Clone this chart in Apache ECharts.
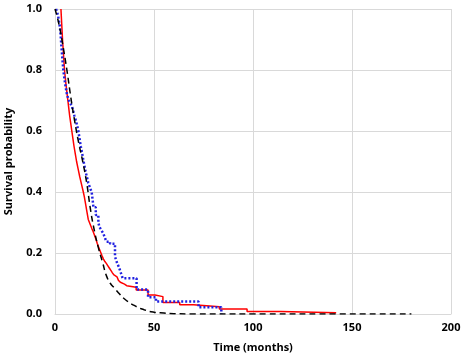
<!DOCTYPE html>
<html>
<head>
<meta charset="utf-8">
<script src="https://cdn.jsdelivr.net/npm/echarts@6/dist/echarts.min.js"></script>
<style>
  html, body { margin: 0; padding: 0; background: #fff; }
  #chart { width: 462px; height: 354px; }
</style>
</head>
<body>
<div id="chart"></div>
<script>
// Kaplan-Meier (red, solid)
const redTimes = [3.0, 3.2, 3.4, 3.6, 3.8, 4.05, 4.3, 4.55, 4.8, 5.2, 5.6, 6.05, 6.5, 6.95, 7.4, 7.95, 8.5, 9.05, 9.6, 10.25, 10.9, 11.7, 12.5, 13.4, 14.3, 14.8, 15.2, 15.6, 16.0, 16.4, 16.8, 17.4, 18.0, 18.6, 19.3, 20.0, 20.7, 21.3, 22.0, 22.6, 23.2, 23.8, 24.5, 25.2, 26.0, 26.8, 27.5, 28.3, 29.0, 29.8, 30.5, 31.3, 32.0, 33.0, 34.0, 35.1, 36.2, 41.0, 47.0, 50.5, 54.5, 63.0, 70.0, 83.0, 97.0, 114.0, 142.0];
const redSurv  = [1.0, 0.975, 0.95, 0.925, 0.90, 0.875, 0.85, 0.825, 0.80, 0.775, 0.75, 0.725, 0.70, 0.675, 0.65, 0.625, 0.60, 0.575, 0.55, 0.525, 0.50, 0.475, 0.45, 0.425, 0.40, 0.385, 0.37, 0.355, 0.34, 0.325, 0.31, 0.30, 0.29, 0.28, 0.27, 0.257, 0.245, 0.232, 0.22, 0.21, 0.20, 0.19, 0.18, 0.172, 0.165, 0.157, 0.15, 0.142, 0.135, 0.128, 0.122, 0.116, 0.111, 0.104, 0.098, 0.093, 0.088, 0.079, 0.062, 0.057, 0.038, 0.030, 0.024, 0.016, 0.008, 0.004, 0.004];

// second group (blue, dotted)
const blueTimes = [0.5, 1.0, 1.5, 2.0, 2.5, 2.9, 3.2, 3.5, 3.8, 4.2, 4.6, 5.0, 5.5, 5.9, 6.5, 7.0, 7.8, 8.6, 9.2, 9.8, 10.4, 10.9, 11.8, 12.4, 13.0, 13.7, 14.3, 14.9, 15.5, 16.2, 16.8, 17.6, 18.5, 19.0, 19.4, 20.6, 21.9, 22.4, 23.4, 24.4, 25.2, 26.0, 27.8, 30.3, 30.9, 31.5, 32.2, 32.8, 33.5, 34.2, 41.2, 47.0, 51.0, 72.5, 84.0];
const blueSurv  = [1.0, 0.99, 0.98, 0.96, 0.94, 0.91, 0.88, 0.855, 0.83, 0.80, 0.78, 0.76, 0.74, 0.725, 0.71, 0.70, 0.69, 0.68, 0.665, 0.65, 0.637, 0.625, 0.60, 0.575, 0.55, 0.527, 0.505, 0.485, 0.465, 0.447, 0.43, 0.415, 0.40, 0.375, 0.35, 0.325, 0.30, 0.286, 0.275, 0.264, 0.25, 0.237, 0.23, 0.188, 0.176, 0.165, 0.155, 0.144, 0.13, 0.117, 0.08, 0.055, 0.041, 0.022, 0.0];

// fitted curve (black, dashed)
const fitTimes = [0, 2, 4, 6, 8, 10, 12, 14, 16, 18, 20, 22, 24, 26, 28, 30, 32, 35, 40, 45, 50, 55, 60, 70, 100, 140, 180];
const fitSurv  = [1.0, 0.95, 0.88, 0.80, 0.71, 0.63, 0.56, 0.50, 0.43, 0.34, 0.27, 0.215, 0.17, 0.125, 0.10, 0.085, 0.07, 0.05, 0.028, 0.014, 0.006, 0.003, 0.001, 0, 0, 0, 0];

const xTicks = [0, 50, 100, 150, 200];
const yTicks = [0, 0.2, 0.4, 0.6, 0.8, 1.0];

const pairs = (xs, ys) => xs.map((x, i) => [x, ys[i]]);

const labelFont = { fontFamily: 'Open Sans', fontWeight: 'bold', fontSize: 11, color: '#000' };
const gridColor = '#d9d9d9';

const chart = echarts.init(document.getElementById('chart'));
chart.setOption({
  animation: false,
  grid: { left: 55, right: 11, top: 9, bottom: 40, outerBoundsMode: 'none', containLabel: false },
  xAxis: {
    type: 'value',
    min: xTicks[0],
    max: xTicks[xTicks.length - 1],
    interval: 50,
    name: 'Time (months)',
    nameLocation: 'middle',
    nameGap: 28,
    nameTextStyle: { ...labelFont, fontSize: 11 },
    axisLine: { lineStyle: { color: gridColor } },
    axisTick: { show: false },
    axisLabel: { ...labelFont, margin: 8 },
    splitLine: { lineStyle: { color: gridColor } },
  },
  yAxis: {
    type: 'value',
    min: yTicks[0],
    max: yTicks[yTicks.length - 1],
    interval: 0.2,
    name: 'Survival probability',
    nameLocation: 'middle',
    nameGap: 41,
    nameTextStyle: { ...labelFont, fontSize: 11 },
    axisLine: { show: true, lineStyle: { color: gridColor } },
    axisTick: { show: false },
    axisLabel: { ...labelFont, margin: 13, formatter: (v) => v.toFixed(1) },
    splitLine: { lineStyle: { color: gridColor } },
  },
  series: [
    {
      name: 'KM',
      type: 'line',
      step: 'end',
      data: pairs(redTimes, redSurv),
      showSymbol: false,
      lineStyle: { color: '#ff0000', width: 1.5 },
    },
    {
      name: 'Group 2',
      type: 'line',
      step: 'end',
      data: pairs(blueTimes, blueSurv),
      showSymbol: false,
      lineStyle: { color: '#2020e0', width: 2.5, type: [2, 2] },
    },
    {
      name: 'Fit',
      type: 'line',
      smooth: true,
      data: pairs(fitTimes, fitSurv),
      showSymbol: false,
      lineStyle: { color: '#000', width: 1.5, type: [6, 4] },
    },
  ],
});
</script>
</body>
</html>
